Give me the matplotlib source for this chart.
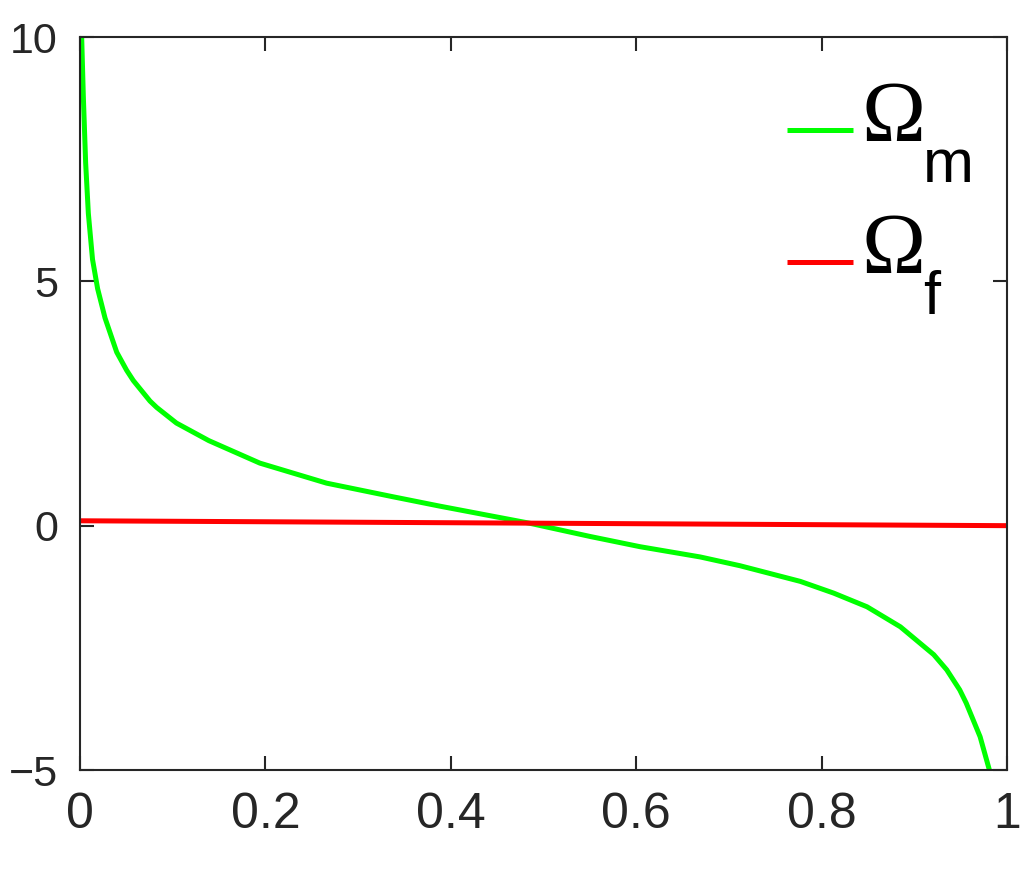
import matplotlib
matplotlib.use("Agg")
import numpy as np
import matplotlib.pyplot as plt
from matplotlib.legend_handler import HandlerLine2D

plt.rcParams['font.family'] = ['Liberation Sans', 'DejaVu Sans']

# Omega_m (green)
xm = [0.0018, 0.0036, 0.0061, 0.009, 0.0135, 0.019, 0.027, 0.0396, 0.0503, 0.0575,
      0.0755, 0.0827, 0.104, 0.139, 0.194, 0.266, 0.338, 0.388, 0.485, 0.55,
      0.604, 0.669, 0.712, 0.777, 0.813, 0.849, 0.885, 0.921, 0.935, 0.949,
      0.956, 0.971, 0.981]
ym = [10.0, 8.78, 7.42, 6.39, 5.45, 4.85, 4.25, 3.55, 3.18, 2.97,
      2.55, 2.42, 2.10, 1.74, 1.28, 0.87, 0.59, 0.40, 0.05, -0.22,
      -0.43, -0.64, -0.82, -1.14, -1.38, -1.66, -2.07, -2.64, -2.95, -3.36,
      -3.63, -4.32, -5.0]

# Omega_f (red)
xf = [0.0, 0.5, 1.0]
yf = [0.1, 0.05, 0.0]

series_labels = ['\u03a9', '\u03a9']
series_subs = ['m', 'f']

xticks = [0, 0.2, 0.4, 0.6, 0.8, 1]
xticklabels = ['0', '0.2', '0.4', '0.6', '0.8', '1']
yticks = [-5, 0, 5, 10]
yticklabels = ['\u22125', '0', '5', '10']


class ShiftedLine(HandlerLine2D):
    def __init__(self, shift=0.0, **kw):
        super().__init__(**kw)
        self._shift = shift

    def create_artists(self, legend, orig_handle, xdescent, ydescent, width,
                       height, fontsize, trans):
        arts = super().create_artists(legend, orig_handle, xdescent, ydescent,
                                      width, height, fontsize, trans)
        for a in arts:
            a.set_ydata(np.asarray(a.get_ydata()) - self._shift * fontsize)
        return arts


fig = plt.figure(figsize=(10.21, 8.71), dpi=100)
ax = fig.add_axes([80/1021, (871-770)/871, 927/1021, 733/871])

lm, = ax.plot(xm, ym, color='#00ff00', lw=3.6, solid_capstyle='butt')
lf, = ax.plot(xf, yf, color='#ff0000', lw=3.6, solid_capstyle='butt')

ax.set_xlim(0, 1)
ax.set_ylim(-5, 10)
ax.set_xticks(xticks)
ax.set_xticklabels(xticklabels)
ax.set_yticks(yticks)
ax.set_yticklabels(yticklabels)
ax.tick_params(direction='in', length=10, width=1.5, top=True, right=True,
               colors='#262626')
ax.tick_params(axis='x', labelsize=36, pad=16)
ax.tick_params(axis='y', labelsize=31, pad=16)
for s in ax.spines.values():
    s.set_color('#262626')
    s.set_linewidth(1.5)

h = ShiftedLine(shift=0.22)
leg = ax.legend([lm, lf], series_labels, loc='upper left',
                bbox_to_anchor=(0.7627, 0.9405), frameon=False,
                prop={'family': 'Liberation Serif', 'size': 62},
                handlelength=0.77, handletextpad=0.1, labelspacing=0.61,
                borderpad=0, borderaxespad=0,
                handler_map={lm: h, lf: h})
for t in leg.get_texts():
    t.set_color('black')

for t, sub in zip(leg.get_texts(), series_subs):
    ax.annotate(sub, xy=(1, 0), xycoords=t, xytext=(-2, -16),
                textcoords='offset points', ha='left', va='baseline',
                fontsize=44, color='black', family='Liberation Sans',
                zorder=10)

fig.canvas.draw()
fig.savefig('out.png', dpi=100)
